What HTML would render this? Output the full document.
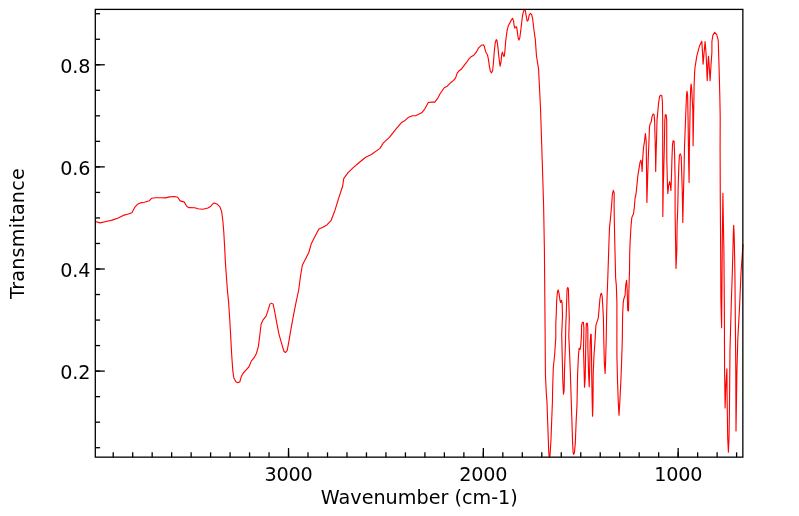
<!DOCTYPE html>
<html><head><meta charset="utf-8"><title>IR Spectrum</title>
<style>
html,body{margin:0;padding:0;background:#fff;}
svg{display:block;}
text{font-family:"DejaVu Sans","Liberation Sans",sans-serif;font-size:19.2px;fill:#000;}
</style></head><body>
<svg width="799" height="516" viewBox="0 0 799 516">
<rect x="0" y="0" width="799" height="516" fill="#fff"/>
<path d="M95.4,221.5 L100.1,222.9 L106.1,221.5 L112.2,220.1 L118.2,218.0 L123.2,215.4 L128.3,214.0 L131.9,212.8 L134.7,207.4 L137.4,204.3 L140.4,202.9 L144.4,202.3 L149.4,200.7 L151.5,198.3 L155.5,197.7 L160.5,197.7 L165.6,197.9 L169.6,196.9 L174.6,196.5 L177.7,197.3 L180.1,200.9 L184.1,201.9 L186.7,206.3 L188.7,207.6 L194.8,207.8 L197.8,208.8 L202.8,209.2 L207.9,208.0 L210.9,206.3 L212.1,204.5 L214.1,202.9 L217.1,204.1 L219.8,206.6 L221.6,211.2 L222.8,220.3 L223.8,232.3 L224.6,246.4 L225.4,262.6 L226.4,276.7 L227.4,290.0 L228.6,302.1 L229.8,320.2 L230.8,338.4 L231.8,356.5 L232.8,370.6 L233.8,377.7 L235.9,381.7 L237.9,382.7 L239.9,381.7 L241.3,376.6 L243.3,373.0 L245.9,370.2 L248.8,367.0 L251.4,360.9 L254.0,357.9 L256.4,353.5 L258.4,346.4 L259.9,334.3 L261.1,324.3 L262.9,320.2 L266.1,316.2 L268.1,310.1 L269.9,304.1 L271.5,303.1 L273.1,304.1 L274.6,311.2 L276.6,322.2 L279.0,334.3 L281.6,343.4 L284.0,351.5 L285.6,352.5 L287.2,350.4 L288.7,342.4 L291.1,328.3 L293.7,314.2 L296.3,301.1 L298.7,290.0 L300.4,276.7 L302.4,265.0 L305.8,258.5 L308.8,252.5 L311.4,243.4 L314.9,236.4 L318.9,228.9 L322.9,227.3 L326.9,224.9 L331.0,220.7 L335.0,210.2 L339.0,197.1 L342.7,186.0 L343.7,178.7 L348.1,172.6 L353.2,167.6 L359.2,162.5 L365.3,157.5 L371.3,154.5 L380.0,148.4 L383.4,142.8 L389.4,137.4 L396.5,128.3 L401.5,122.6 L404.6,120.8 L408.6,117.2 L412.6,115.8 L415.6,115.8 L421.7,112.8 L424.7,109.1 L428.3,102.5 L431.8,102.1 L434.8,102.1 L437.8,98.1 L440.1,93.7 L444.2,87.7 L447.2,86.2 L451.2,82.2 L453.6,80.4 L455.6,77.9 L457.1,73.3 L458.6,71.3 L461.2,69.3 L464.2,65.3 L466.7,62.2 L468.7,59.2 L471.2,56.7 L473.8,55.2 L476.3,52.2 L478.8,47.6 L481.3,45.3 L483.3,44.8 L484.3,46.1 L485.3,50.6 L486.4,53.2 L487.4,54.7 L488.4,59.2 L489.4,66.3 L490.4,71.3 L491.6,72.8 L492.6,70.8 L493.4,63.2 L494.2,52.2 L495.2,43.1 L496.2,39.6 L497.0,40.6 L497.9,47.1 L498.9,57.2 L500.1,66.3 L501.0,62.2 L501.7,54.2 L502.5,52.2 L503.5,56.2 L504.3,56.2 L505.0,50.1 L505.7,41.1 L506.3,36.2 L507.0,31.2 L508.3,25.7 L509.8,23.1 L511.3,20.1 L512.5,18.3 L513.5,20.6 L514.1,25.7 L514.8,28.2 L515.8,26.7 L516.6,26.7 L517.4,32.2 L518.2,38.3 L518.9,40.1 L519.7,38.3 L520.7,31.2 L521.6,23.1 L522.6,15.1 L523.6,11.1 L524.6,9.5 L525.4,11.1 L526.2,16.1 L527.2,21.1 L528.2,20.1 L529.2,15.1 L530.5,13.4 L531.7,14.6 L532.7,19.1 L533.5,26.2 L534.5,34.2 L535.3,39.3 L536.0,49.3 L536.5,56.0 L538.6,69.4 L540.5,108.0 L542.4,166.0 L543.6,205.0 L544.4,250.0 L545.1,330.0 L545.4,374.0 L546.4,395.0 L547.0,402.6 L547.6,420.2 L548.3,439.1 L548.6,449.2 L548.9,453.9 L549.1,456.2 L549.5,457.0 L549.9,456.2 L550.1,453.9 L550.4,449.2 L551.0,439.1 L551.7,420.2 L552.4,402.6 L552.7,386.7 L553.3,367.8 L554.6,355.2 L555.8,337.6 L555.8,322.9 L556.2,315.4 L556.7,300.3 L557.5,291.4 L558.2,289.9 L559.0,293.3 L560.0,300.3 L560.6,302.5 L561.5,300.3 L562.1,302.8 L562.5,315.4 L561.7,335.0 L562.2,355.2 L562.8,380.4 L563.5,394.2 L564.1,390.4 L564.6,367.8 L565.5,342.6 L565.8,324.2 L566.3,312.9 L566.6,302.8 L567.1,288.9 L567.8,287.4 L568.4,288.9 L568.8,302.8 L569.3,317.9 L568.8,336.3 L569.4,348.9 L570.4,374.1 L571.3,402.6 L571.9,420.2 L572.6,442.9 L573.0,450.4 L573.2,453.2 L573.7,454.3 L574.2,453.4 L574.6,451.1 L575.3,442.9 L576.2,420.2 L577.0,405.1 L577.6,374.1 L578.5,355.2 L579.1,348.3 L580.1,349.5 L580.8,345.1 L581.4,336.3 L581.6,325.4 L582.4,322.3 L583.4,322.3 L583.9,328.0 L583.5,348.9 L584.2,374.1 L584.5,387.3 L585.2,377.9 L585.7,348.9 L586.3,323.6 L587.3,323.2 L587.8,328.0 L587.9,348.9 L588.6,374.1 L589.2,386.7 L589.7,367.8 L590.2,342.6 L590.7,334.4 L591.2,334.4 L591.5,348.9 L591.7,374.1 L592.2,402.6 L592.6,416.2 L593.0,402.6 L593.2,374.1 L594.0,355.2 L594.9,342.6 L595.9,325.4 L597.1,321.7 L598.3,317.9 L599.3,306.6 L599.9,299.0 L600.8,294.0 L601.5,293.3 L602.2,296.5 L602.8,306.6 L603.4,317.9 L603.8,340.1 L604.3,361.5 L605.1,373.4 L605.6,361.5 L606.2,340.1 L606.6,315.4 L607.1,296.5 L607.8,277.6 L608.5,256.7 L608.9,244.1 L609.5,227.7 L610.8,215.1 L611.7,203.8 L612.4,194.2 L613.3,190.4 L614.2,192.9 L614.1,205.0 L614.3,218.9 L614.8,244.1 L615.2,259.2 L615.6,277.6 L616.3,285.1 L616.9,302.8 L616.9,355.2 L617.5,380.4 L618.3,402.6 L619.0,415.1 L619.8,402.6 L620.9,380.4 L621.6,361.5 L622.3,340.1 L622.6,315.4 L623.2,302.8 L623.8,299.0 L625.1,295.2 L625.7,285.1 L626.6,280.4 L627.2,290.2 L627.7,310.3 L628.5,311.0 L628.9,290.2 L629.5,271.3 L629.7,254.2 L630.0,244.1 L630.9,227.7 L631.8,217.6 L632.6,215.7 L633.5,213.8 L634.3,207.6 L635.1,198.0 L636.0,194.2 L636.9,185.4 L637.9,175.3 L639.1,167.8 L640.1,162.1 L640.9,160.2 L641.6,164.0 L642.1,171.5 L642.6,160.2 L643.5,147.6 L644.5,141.3 L645.4,133.6 L646.2,141.3 L646.5,166.5 L646.9,202.5 L647.4,185.4 L648.2,160.2 L648.9,142.6 L649.5,126.7 L650.2,123.5 L651.1,122.3 L652.0,116.6 L653.0,114.1 L654.0,114.3 L654.6,120.4 L655.2,142.6 L655.5,153.9 L655.7,171.5 L656.1,153.9 L656.5,141.3 L657.0,120.4 L657.8,111.6 L658.6,102.8 L659.6,96.5 L660.8,95.2 L661.8,95.8 L662.4,101.5 L662.7,120.4 L662.7,160.2 L662.8,185.4 L662.8,216.4 L663.3,185.4 L663.7,172.8 L664.3,147.6 L664.8,120.4 L665.3,114.7 L666.2,114.7 L666.7,120.4 L666.8,160.2 L667.5,185.4 L667.8,193.6 L668.7,185.4 L669.6,181.6 L670.4,185.4 L670.9,190.4 L671.4,179.1 L671.9,160.2 L672.5,145.1 L673.1,140.7 L674.1,141.3 L674.6,153.9 L675.1,179.1 L675.1,212.6 L675.5,237.8 L676.0,268.4 L676.8,250.4 L677.1,225.2 L677.8,206.3 L678.2,185.4 L678.8,166.5 L679.4,155.2 L680.3,153.9 L681.2,156.4 L681.7,172.8 L682.3,191.7 L682.8,222.4 L683.5,191.7 L684.0,172.8 L684.5,147.6 L685.5,120.4 L686.0,107.8 L686.5,95.2 L687.0,91.2 L687.6,95.2 L688.1,120.4 L688.6,160.2 L689.1,182.6 L689.4,147.2 L689.8,127.1 L690.3,100.3 L690.7,88.2 L691.1,84.1 L691.8,90.2 L692.3,100.3 L692.8,110.3 L693.1,145.7 L693.7,110.3 L693.9,100.3 L694.1,85.2 L694.6,73.1 L695.0,67.5 L696.9,55.6 L699.4,46.3 L701.8,41.2 L702.5,52.5 L703.1,64.1 L704.1,52.5 L705.1,41.6 L706.0,52.5 L706.6,65.0 L707.2,80.6 L708.1,61.9 L708.5,56.3 L709.1,65.0 L710.1,80.6 L711.2,61.9 L711.9,52.5 L711.9,41.6 L712.9,35.1 L714.7,32.3 L716.7,34.6 L718.2,40.1 L719.0,65.0 L719.4,80.1 L719.8,95.2 L720.2,117.0 L720.1,150.0 L720.3,200.0 L720.7,260.0 L720.9,300.0 L721.6,327.7 L722.0,280.0 L722.3,240.0 L722.9,193.2 L723.5,230.0 L723.9,250.0 L724.3,300.0 L724.6,372.0 L725.1,407.9 L725.9,385.0 L726.9,368.9 L727.2,405.0 L727.7,438.0 L728.4,452.1 L729.0,438.0 L729.5,405.0 L729.8,372.0 L730.0,350.0 L731.2,306.0 L732.3,273.0 L732.9,251.0 L733.4,231.0 L733.7,225.2 L734.2,236.0 L734.6,256.0 L734.9,273.0 L735.2,306.0 L735.5,339.0 L735.8,372.0 L736.0,430.9 L736.4,405.0 L736.9,372.0 L737.8,339.0 L739.6,306.0 L741.0,273.0 L743.0,244.2" fill="none" stroke="#ff0000" stroke-width="1.12" stroke-linejoin="round"/>
<g stroke="#000" stroke-width="1.3" fill="none">
<rect x="95.3" y="9.4" width="647.5500000000001" height="447.75"/>
<line x1="95.3" y1="13.72" x2="100.1" y2="13.72"/>
<line x1="95.3" y1="39.25" x2="100.1" y2="39.25"/>
<line x1="95.3" y1="64.78" x2="104.8" y2="64.78"/>
<line x1="95.3" y1="64.78" x2="100.1" y2="64.78"/>
<line x1="95.3" y1="90.30" x2="100.1" y2="90.30"/>
<line x1="95.3" y1="115.83" x2="100.1" y2="115.83"/>
<line x1="95.3" y1="141.36" x2="100.1" y2="141.36"/>
<line x1="95.3" y1="166.89" x2="104.8" y2="166.89"/>
<line x1="95.3" y1="166.89" x2="100.1" y2="166.89"/>
<line x1="95.3" y1="192.42" x2="100.1" y2="192.42"/>
<line x1="95.3" y1="217.94" x2="100.1" y2="217.94"/>
<line x1="95.3" y1="243.47" x2="100.1" y2="243.47"/>
<line x1="95.3" y1="269.00" x2="104.8" y2="269.00"/>
<line x1="95.3" y1="269.00" x2="100.1" y2="269.00"/>
<line x1="95.3" y1="294.53" x2="100.1" y2="294.53"/>
<line x1="95.3" y1="320.06" x2="100.1" y2="320.06"/>
<line x1="95.3" y1="345.58" x2="100.1" y2="345.58"/>
<line x1="95.3" y1="371.11" x2="104.8" y2="371.11"/>
<line x1="95.3" y1="371.11" x2="100.1" y2="371.11"/>
<line x1="95.3" y1="396.64" x2="100.1" y2="396.64"/>
<line x1="95.3" y1="422.17" x2="100.1" y2="422.17"/>
<line x1="95.3" y1="447.70" x2="100.1" y2="447.70"/>
<line x1="736.60" y1="457.15" x2="736.60" y2="452.34999999999997"/>
<line x1="717.12" y1="457.15" x2="717.12" y2="452.34999999999997"/>
<line x1="697.64" y1="457.15" x2="697.64" y2="452.34999999999997"/>
<line x1="678.16" y1="457.15" x2="678.16" y2="448.04999999999995"/>
<line x1="678.16" y1="457.15" x2="678.16" y2="452.34999999999997"/>
<line x1="658.68" y1="457.15" x2="658.68" y2="452.34999999999997"/>
<line x1="639.20" y1="457.15" x2="639.20" y2="452.34999999999997"/>
<line x1="619.71" y1="457.15" x2="619.71" y2="452.34999999999997"/>
<line x1="600.23" y1="457.15" x2="600.23" y2="452.34999999999997"/>
<line x1="580.75" y1="457.15" x2="580.75" y2="452.34999999999997"/>
<line x1="561.27" y1="457.15" x2="561.27" y2="452.34999999999997"/>
<line x1="541.79" y1="457.15" x2="541.79" y2="452.34999999999997"/>
<line x1="522.31" y1="457.15" x2="522.31" y2="452.34999999999997"/>
<line x1="502.83" y1="457.15" x2="502.83" y2="452.34999999999997"/>
<line x1="483.35" y1="457.15" x2="483.35" y2="448.04999999999995"/>
<line x1="483.35" y1="457.15" x2="483.35" y2="452.34999999999997"/>
<line x1="463.87" y1="457.15" x2="463.87" y2="452.34999999999997"/>
<line x1="444.38" y1="457.15" x2="444.38" y2="452.34999999999997"/>
<line x1="424.90" y1="457.15" x2="424.90" y2="452.34999999999997"/>
<line x1="405.42" y1="457.15" x2="405.42" y2="452.34999999999997"/>
<line x1="385.94" y1="457.15" x2="385.94" y2="452.34999999999997"/>
<line x1="366.46" y1="457.15" x2="366.46" y2="452.34999999999997"/>
<line x1="346.98" y1="457.15" x2="346.98" y2="452.34999999999997"/>
<line x1="327.50" y1="457.15" x2="327.50" y2="452.34999999999997"/>
<line x1="308.02" y1="457.15" x2="308.02" y2="452.34999999999997"/>
<line x1="288.54" y1="457.15" x2="288.54" y2="448.04999999999995"/>
<line x1="288.54" y1="457.15" x2="288.54" y2="452.34999999999997"/>
<line x1="269.06" y1="457.15" x2="269.06" y2="452.34999999999997"/>
<line x1="249.57" y1="457.15" x2="249.57" y2="452.34999999999997"/>
<line x1="230.09" y1="457.15" x2="230.09" y2="452.34999999999997"/>
<line x1="210.61" y1="457.15" x2="210.61" y2="452.34999999999997"/>
<line x1="191.13" y1="457.15" x2="191.13" y2="452.34999999999997"/>
<line x1="171.65" y1="457.15" x2="171.65" y2="452.34999999999997"/>
<line x1="152.17" y1="457.15" x2="152.17" y2="452.34999999999997"/>
<line x1="132.69" y1="457.15" x2="132.69" y2="452.34999999999997"/>
<line x1="113.21" y1="457.15" x2="113.21" y2="452.34999999999997"/>
</g>
<text x="90.2" y="72.9" text-anchor="end" letter-spacing="-0.2">0.8</text>
<text x="90.2" y="175.0" text-anchor="end" letter-spacing="-0.2">0.6</text>
<text x="90.2" y="277.1" text-anchor="end" letter-spacing="-0.2">0.4</text>
<text x="90.2" y="379.2" text-anchor="end" letter-spacing="-0.2">0.2</text>
<text x="678.2" y="481" text-anchor="middle" letter-spacing="-0.2">1000</text>
<text x="483.3" y="481" text-anchor="middle" letter-spacing="-0.2">2000</text>
<text x="288.5" y="481" text-anchor="middle" letter-spacing="-0.2">3000</text>
<text x="419.3" y="504.2" text-anchor="middle">Wavenumber (cm-1)</text>
<text transform="translate(24.0,233.5) rotate(-90)" text-anchor="middle" letter-spacing="0.2">Transmitance</text>
</svg>
</body></html>
